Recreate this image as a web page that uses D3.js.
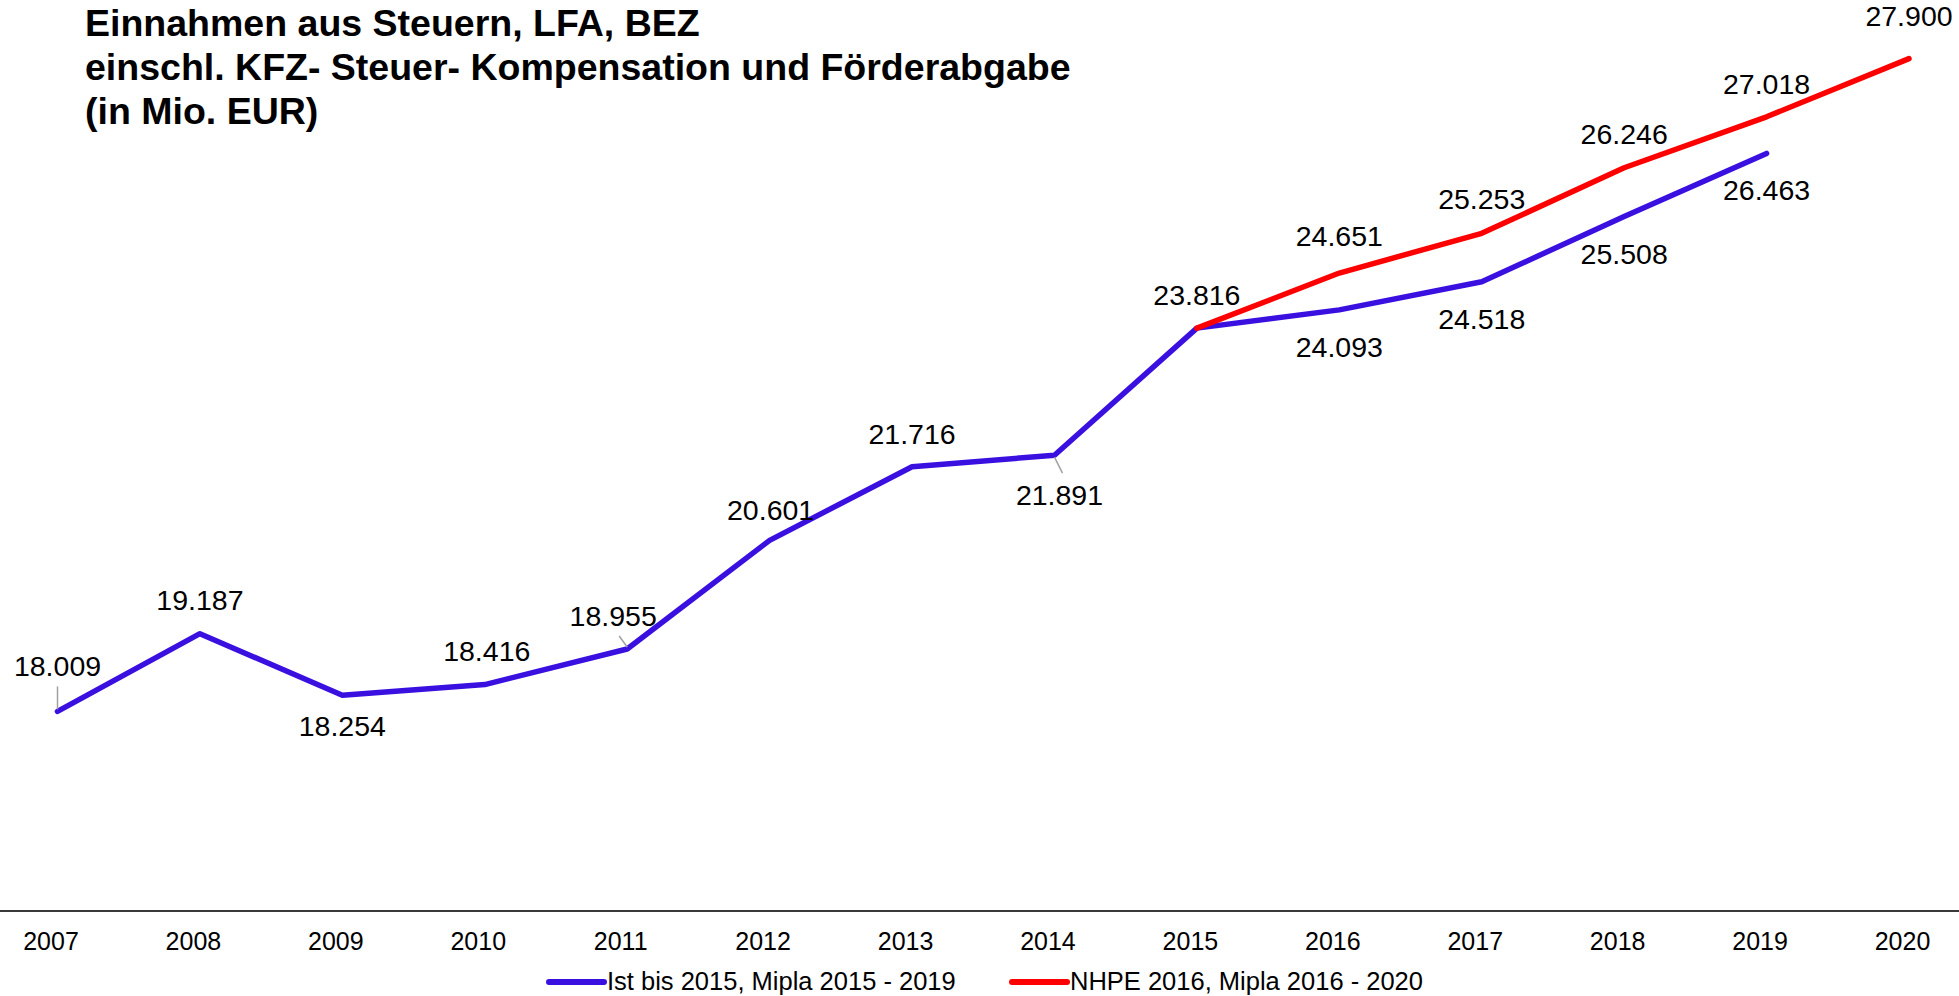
<!DOCTYPE html>
<html>
<head>
<meta charset="utf-8">
<script src="https://cdn.jsdelivr.net/npm/d3@7"></script>
<style>
    body { margin: 0; background: white; }
    svg { display: block; font-family: "Liberation Sans", Arial, sans-serif; }
</style>
</head>
<body>
<svg id="chart"></svg>
<script>
// data (Mio. EUR)
const years = [2007, 2008, 2009, 2010, 2011, 2012, 2013, 2014, 2015, 2016, 2017, 2018, 2019, 2020];
const istValues = [18009, 19187, 18254, 18416, 18955, 20601, 21716, 21891, 23816, 24093, 24518, 25508, 26463, null];
const nhpeValues = [null, null, null, null, null, null, null, null, 23816, 24651, 25253, 26246, 27018, 27900];
const seriesNames = ["Ist bis 2015, Mipla 2015 - 2019", "NHPE 2016, Mipla 2016 - 2020"];
const titleLines = [
    "Einnahmen aus Steuern, LFA, BEZ",
    "einschl. KFZ- Steuer- Kompensation und Förderabgabe",
    "(in Mio. EUR)"
];

// label placement (baseline offset from point, horizontal shift, leader line)
const istLabelDy = [-35, -24, 41, -24, -23, -20, -23, 50, -23, 47, 47, 48, 47, null];
const istLabelDx = [0, 0, 0, 2, -14, 1, 0, 5, 0, 0, 0, 0, 0, 0];
const istLeader = [true, false, false, false, true, false, false, true, false, false, false, false, false, false];
const nhpeLabelDy = [null, null, null, null, null, null, null, null, null, -27, -24, -24, -23, -33];

const width = 1959, height = 996;
const colors = ["#3A10E0", "#FF0000"];

const svg = d3.select("#chart")
    .attr("width", width)
    .attr("height", height);

const x = d3.scalePoint()
    .domain(years)
    .range([57.5, 1909]);

const y = d3.scaleLinear()
    .domain([15000, 28000])
    .range([910, 52]);

const de = d3.formatLocale({ decimal: ",", thousands: ".", grouping: [3], currency: ["", " €"] });
const fmt = de.format(",d");

// title
svg.append("g")
    .selectAll("text")
    .data(titleLines)
    .enter().append("text")
    .attr("x", 85)
    .attr("y", (d, i) => 36 + i * 44)
    .attr("font-size", "37.5px")
    .attr("font-weight", "bold")
    .attr("fill", "black")
    .text(d => d);

// axis
svg.append("line")
    .attr("x1", 0)
    .attr("x2", width)
    .attr("y1", y(15000) + 1)
    .attr("y2", y(15000) + 1)
    .attr("stroke", "#3a3a3a")
    .attr("stroke-width", 2);

const xAxis = svg.append("g")
    .attr("transform", `translate(0, ${y(15000)})`)
    .call(d3.axisBottom(x).tickSize(0).tickFormat(d => d));
xAxis.select(".domain").remove();
xAxis.selectAll("text")
    .attr("dy", null)
    .attr("y", 40)
    .attr("dx", -7)
    .attr("font-size", "25px")
    .attr("font-family", "\"Liberation Sans\", Arial, sans-serif")
    .attr("fill", "black");

// lines
const line = d3.line()
    .defined(d => d != null)
    .x((d, i) => x(years[i]))
    .y(d => y(d));

[istValues, nhpeValues].forEach((vals, k) => {
    svg.append("path")
        .datum(vals)
        .attr("fill", "none")
        .attr("stroke", colors[k])
        .attr("stroke-width", 5.5)
        .attr("stroke-linejoin", "round")
        .attr("stroke-linecap", "round")
        .attr("d", line);
});

// leader lines
const leaders = svg.append("g");
istValues.forEach((v, i) => {
    if (v == null || !istLeader[i]) return;
    const px = x(years[i]), py = y(v);
    const lx = px + istLabelDx[i];
    const ly = istLabelDy[i] < 0 ? py + istLabelDy[i] + 10 : py + istLabelDy[i] - 32;
    leaders.append("line")
        .attr("x1", px).attr("y1", py + (istLabelDy[i] < 0 ? -2 : 2))
        .attr("x2", lx + (istLabelDx[i] < 0 ? 6 : istLabelDx[i] > 0 ? 3 : 0))
        .attr("y2", ly)
        .attr("stroke", "#a0a0a0")
        .attr("stroke-width", 1.5);
});

// data labels
const labels = svg.append("g")
    .attr("font-size", "28.5px")
    .attr("fill", "black")
    .attr("text-anchor", "middle");

istValues.forEach((v, i) => {
    if (v == null || istLabelDy[i] == null) return;
    labels.append("text")
        .attr("x", x(years[i]) + istLabelDx[i])
        .attr("y", y(v) + istLabelDy[i])
        .text(fmt(v));
});
nhpeValues.forEach((v, i) => {
    if (v == null || nhpeLabelDy[i] == null) return;
    labels.append("text")
        .attr("x", x(years[i]))
        .attr("y", y(v) + nhpeLabelDy[i])
        .text(fmt(v));
});

// legend
const legendX = [549, 1012];
const legend = svg.append("g");
seriesNames.forEach((name, k) => {
    legend.append("line")
        .attr("x1", legendX[k]).attr("x2", legendX[k] + 55)
        .attr("y1", 982).attr("y2", 982)
        .attr("stroke", colors[k])
        .attr("stroke-width", 6)
        .attr("stroke-linecap", "round");
    legend.append("text")
        .attr("x", legendX[k] + 58)
        .attr("y", 990)
        .attr("font-size", "25.5px")
        .attr("fill", "black")
        .text(name);
});
</script>
</body>
</html>
